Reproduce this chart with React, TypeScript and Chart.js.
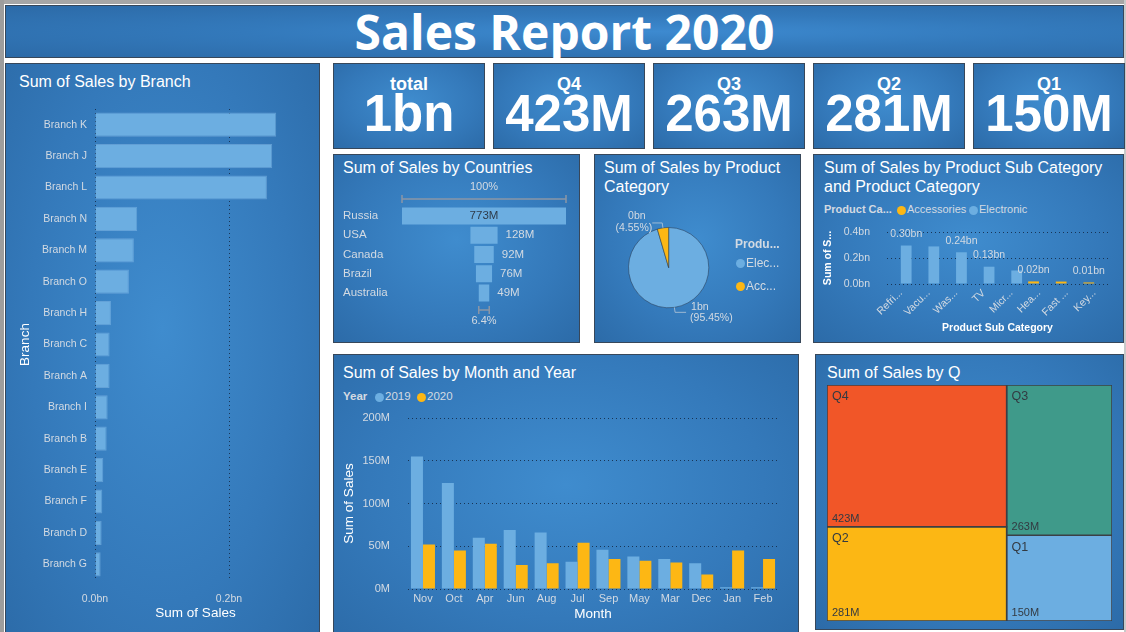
import React, { useEffect, useRef } from "react";
import { Chart, registerables } from "chart.js";
Chart.register(...registerables);

const FONT = "'Liberation Sans', Arial, Helvetica, sans-serif";
Chart.defaults.font.family = FONT;

// ---------------- DATA ----------------
const branches = ["Branch K", "Branch J", "Branch L", "Branch N", "Branch M", "Branch O", "Branch H", "Branch C", "Branch A", "Branch I", "Branch B", "Branch E", "Branch F", "Branch D", "Branch G"];
const branchSales = [0.2705, 0.2645, 0.2566, 0.063, 0.058, 0.0506, 0.0238, 0.0218, 0.0218, 0.0189, 0.0174, 0.0124, 0.0109, 0.0099, 0.0084]; // bn

const countries = ["Russia", "USA", "Canada", "Brazil", "Australia"];
const countrySales = [773, 128, 92, 76, 49.4]; // M

const productCategories = ["Electronic", "Accessories"];
const productLegendLabels = ["Elec...", "Acc..."];
const categorySales = [1.0662, 0.0508]; // bn

const subCategories = ["Refrigerator", "Vacuum Cleaner", "Washing Machine", "TV", "Microwave", "Headphones", "Fast Charger", "Keyboard"];
const subCategoryTickLabels = ["Refri...", "Vacu...", "Was...", "TV", "Micr...", "Hea...", "Fast ...", "Key..."];
const accessorySales = [null, null, null, null, null, 0.02, 0.0188, 0.012]; // bn
const electronicSales = [0.296, 0.289, 0.244, 0.133, 0.104, null, null, null]; // bn

const months = ["Nov", "Oct", "Apr", "Jun", "Aug", "Jul", "Sep", "May", "Mar", "Dec", "Jan", "Feb"];
const sales2019 = [155, 124, 60, 69, 66, 32, 46, 38, 35, 30, 2, 2]; // M
const sales2020 = [52, 45, 53, 28, 30, 54, 35, 33, 31, 17, 45, 35]; // M

const quarters = ["Q1", "Q2", "Q3", "Q4"];
const quarterSales = [150, 281, 263, 423]; // M
const quarterColors = ["#6caee1", "#fcb714", "#3f9a8a", "#f15628"];
const kpiOrder = ["Q4", "Q3", "Q2", "Q1"];

// ---------------- STYLE ----------------
const TICK = "#d3dae2";
const GRID = "rgba(22,48,80,0.95)";
const BLUE = "#6caee1";
const ORANGE = "#fdb714";
const PANEL_BG = "radial-gradient(ellipse at 50% 45%, #3f8cce 0%, #3479ba 60%, #2c6ba8 100%)";
const PANEL_BORDER = "1px solid #37475a";
const TM_ASPECT = 285 / 236;

const sum = (a: number[]) => a.reduce((s, v) => s + v, 0);

// fixes an axis box size and drops its automatic label overhang padding
const fixX = (h: number) => (s: any) => { s.height = h; s.paddingLeft = 0; s.paddingRight = 0; };
const fixY = (w: number) => (s: any) => { s.width = w; s.paddingTop = 0; s.paddingBottom = 0; };

function ChartBox({ left, top, width, height, config }: any) {
  const ref = useRef<HTMLCanvasElement>(null);
  useEffect(() => {
    const c = new Chart(ref.current as HTMLCanvasElement, config());
    return () => c.destroy();
  }, []);
  return <canvas ref={ref} width={width} height={height} style={{ position: "absolute", left, top, width, height }} />;
}

// ---------------- PLUGINS ----------------
const funnelPlugin = {
  id: "funnelLabels",
  afterDatasetsDraw(chart: any) {
    const ctx = chart.ctx;
    const meta = chart.getDatasetMeta(0);
    const area = chart.chartArea;
    ctx.save();
    ctx.font = `11.5px ${FONT}`;
    ctx.textBaseline = "middle";
    const ext = (bar: any) => {
      const p = bar.getProps(["x", "y", "base"], true);
      return { l: Math.min(p.x, p.base), r: Math.max(p.x, p.base), y: p.y };
    };
    meta.data.forEach((bar: any, i: number) => {
      const e = ext(bar);
      const text = Math.round(countrySales[i]) + "M";
      const w = ctx.measureText(text).width;
      if (w + 10 < e.r - e.l) {
        ctx.fillStyle = "#2e3b4a";
        ctx.textAlign = "center";
        ctx.fillText(text, (e.l + e.r) / 2, e.y);
      } else {
        ctx.fillStyle = TICK;
        ctx.textAlign = "left";
        ctx.fillText(text, e.r + 8, e.y);
      }
    });
    const bracket = (e: any, y: number, text: string, ty: number) => {
      ctx.strokeStyle = "#8b96a6";
      ctx.lineWidth = 1.5;
      ctx.beginPath();
      ctx.moveTo(e.l, y); ctx.lineTo(e.r, y);
      ctx.moveTo(e.l, y - 4); ctx.lineTo(e.l, y + 4);
      ctx.moveTo(e.r, y - 4); ctx.lineTo(e.r, y + 4);
      ctx.stroke();
      ctx.fillStyle = TICK;
      ctx.textAlign = "center";
      ctx.fillText(text, (e.l + e.r) / 2, ty);
    };
    const first = ext(meta.data[0]);
    const last = ext(meta.data[meta.data.length - 1]);
    ctx.font = `11px ${FONT}`;
    bracket(first, area.top - 7.5, "100%", area.top - 19.5);
    const pct = (countrySales[countrySales.length - 1] / countrySales[0]) * 100;
    bracket(last, area.bottom + 7.5, pct.toFixed(1) + "%", area.bottom + 18.5);
    ctx.restore();
  },
};

const pieLabelPlugin = {
  id: "pieLabels",
  afterDatasetsDraw(chart: any) {
    const ctx = chart.ctx;
    const meta = chart.getDatasetMeta(0);
    const total = sum(categorySales);
    ctx.save();
    ctx.font = `10.5px ${FONT}`;
    ctx.textBaseline = "middle";
    meta.data.forEach((arc: any, i: number) => {
      const p = arc.getProps(["x", "y", "startAngle", "endAngle", "outerRadius"], true);
      const mid = (p.startAngle + p.endAngle) / 2;
      const c = Math.cos(mid), s = Math.sin(mid);
      const px = p.x + c * p.outerRadius, py = p.y + s * p.outerRadius;
      const ex = p.x + c * (p.outerRadius + 5), ey = p.y + s * (p.outerRadius + 5);
      const right = c >= 0;
      const lx = ex + (right ? 11 : -10);
      ctx.strokeStyle = "rgba(200,210,220,0.7)";
      ctx.lineWidth = 1;
      ctx.beginPath();
      ctx.moveTo(px, py); ctx.lineTo(ex, ey); ctx.lineTo(lx, ey);
      ctx.stroke();
      const v = categorySales[i];
      const l1 = Math.round(v) + "bn";
      const l2 = "(" + ((v / total) * 100).toFixed(2) + "%)";
      ctx.fillStyle = TICK;
      if (right) {
        ctx.textAlign = "left";
        ctx.fillText(l1, lx + 5, ey - 5.5);
        ctx.fillText(l2, lx + 4, ey + 6);
      } else {
        const w = Math.max(ctx.measureText(l1).width, ctx.measureText(l2).width);
        ctx.textAlign = "center";
        ctx.fillText(l1, lx - w / 2 + 3, ey - 6.5);
        ctx.fillText(l2, lx - w / 2, ey + 5.5);
      }
    });
    ctx.restore();
  },
};

const subLabelPlugin = {
  id: "subLabels",
  afterDatasetsDraw(chart: any) {
    const ctx = chart.ctx;
    ctx.save();
    ctx.font = `10.5px ${FONT}`;
    ctx.textAlign = "center";
    ctx.textBaseline = "middle";
    ctx.fillStyle = TICK;
    const items: any[] = [];
    chart.data.datasets.forEach((ds: any, di: number) => {
      const meta = chart.getDatasetMeta(di);
      ds.data.forEach((v: any, i: number) => {
        if (v == null) return;
        const el = meta.data[i];
        items.push({ i, v, x: el.x, y: el.y });
      });
    });
    items.sort((a, b) => a.i - b.i);
    const placed: any[] = [];
    items.forEach((it) => {
      const text = it.v.toFixed(2) + "bn";
      const w = ctx.measureText(text).width;
      const cy = it.y - 11.5;
      const box = { l: it.x - w / 2 - 1, r: it.x + w / 2 + 1, t: cy - 6, b: cy + 6 };
      const hit = placed.some((p) => box.l < p.r && box.r > p.l && box.t < p.b && box.b > p.t);
      if (hit) return;
      placed.push(box);
      ctx.fillText(text, it.x, cy);
    });
    ctx.restore();
  },
};

const treemapLabelPlugin = {
  id: "treemapLabels",
  afterDatasetsDraw(chart: any) {
    const ctx = chart.ctx;
    ctx.save();
    ctx.fillStyle = "#333a42";
    ctx.textAlign = "left";
    ctx.textBaseline = "middle";
    chart.data.datasets.forEach((ds: any, di: number) => {
      const meta = chart.getDatasetMeta(di);
      const tl = meta.data[0], br = meta.data[2];
      ctx.font = `12.5px ${FONT}`;
      ctx.fillText(ds.label, tl.x + 5, tl.y + 12);
      ctx.font = `11px ${FONT}`;
      ctx.fillText(Math.round(ds.value) + "M", tl.x + 5, br.y - 8);
    });
    ctx.restore();
  },
};

function squarify(values: number[], rect: any) {
  const total = sum(values);
  const area = rect.w * rect.h;
  const areas = values.map((v) => (v / total) * area);
  const out: any[] = [];
  let r = { ...rect };
  let i = 0;
  while (i < areas.length) {
    const short = Math.min(r.w, r.h);
    const worst = (row: number[]) => {
      const s = sum(row);
      const mx = Math.max(...row), mn = Math.min(...row);
      return Math.max((short * short * mx) / (s * s), (s * s) / (short * short * mn));
    };
    const row = [areas[i]];
    let j = i + 1;
    while (j < areas.length && worst([...row, areas[j]]) <= worst(row)) {
      row.push(areas[j]);
      j++;
    }
    const s = sum(row);
    if (r.w >= r.h) {
      const cw = s / r.h;
      let yy = r.y;
      row.forEach((a) => { const hh = a / cw; out.push({ x: r.x, y: yy, w: cw, h: hh }); yy += hh; });
      r = { x: r.x + cw, y: r.y, w: r.w - cw, h: r.h };
    } else {
      const rh = s / r.w;
      let xx = r.x;
      row.forEach((a) => { const ww = a / rh; out.push({ x: xx, y: r.y, w: ww, h: rh }); xx += ww; });
      r = { x: r.x, y: r.y + rh, w: r.w, h: r.h - rh };
    }
    i = j;
  }
  return out;
}

// ---------------- CONFIGS ----------------
const noPlugins = { legend: { display: false }, tooltip: { enabled: false } };

const branchConfig = () => ({
  type: "bar",
  data: {
    labels: branches,
    datasets: [{ data: branchSales, backgroundColor: BLUE, borderColor: "rgba(150,200,240,0.45)", borderWidth: 1, barPercentage: 0.77, categoryPercentage: 1 }],
  },
  options: {
    indexAxis: "y", responsive: false, animation: false,
    layout: { autoPadding: false, padding: { left: 0, right: 24, top: 9, bottom: 0 } },
    plugins: noPlugins,
    scales: {
      x: {
        min: 0, max: 0.3,
        afterFit: fixX(52),
        ticks: { stepSize: 0.2, includeBounds: false, color: TICK, font: { size: 10.5 }, padding: 13, maxRotation: 0, callback: (v: any) => Number(v).toFixed(1) + "bn" },
        grid: { color: GRID, drawTicks: false },
        border: { display: false, dash: [1, 3] },
        title: { display: true, text: "Sum of Sales", color: "#ffffff", font: { size: 13.5 }, padding: { top: 0, bottom: 11 } },
      },
      y: {
        afterFit: fixY(90),
        ticks: { color: TICK, font: { size: 10.5 }, padding: 8 },
        grid: { display: false, drawTicks: false },
        border: { display: false },
        title: { display: true, text: "Branch", color: "#ffffff", font: { size: 13.5 }, padding: { top: 12, bottom: 0 } },
      },
    },
  },
});

const funnelConfig = () => {
  const mx = Math.max(...countrySales);
  return {
    type: "bar",
    data: {
      labels: countries,
      datasets: [{ data: countrySales.map((v) => [-v / 2, v / 2]), backgroundColor: BLUE, barPercentage: 0.88, categoryPercentage: 1 }],
    },
    options: {
      indexAxis: "y", responsive: false, animation: false,
      layout: { autoPadding: false, padding: { left: 10, right: 14, top: 31.4, bottom: 27.4 } },
      plugins: noPlugins,
      scales: {
        x: { display: false, min: -mx / 2, max: mx / 2 },
        y: {
          afterFit: fixY(59),
          ticks: { color: TICK, font: { size: 11.5 }, crossAlign: "far", padding: 0 },
          grid: { display: false, drawTicks: false },
          border: { display: false },
        },
      },
    },
    plugins: [funnelPlugin],
  };
};

const pieConfig = () => ({
  type: "pie",
  data: {
    labels: productCategories,
    datasets: [{ data: categorySales, backgroundColor: [BLUE, ORANGE], borderColor: "rgba(40,60,85,0.55)", borderWidth: 1 }],
  },
  options: {
    responsive: false, animation: false,
    layout: { autoPadding: false, padding: { left: 34, right: 34.7, top: 32, bottom: 26.7 } },
    plugins: noPlugins,
  },
  plugins: [pieLabelPlugin],
});

const subConfig = () => ({
  type: "bar",
  data: {
    labels: subCategories,
    datasets: [
      { label: "Accessories", data: accessorySales, backgroundColor: ORANGE, categoryPercentage: 0.78, barPercentage: 1 },
      { label: "Electronic", data: electronicSales, backgroundColor: BLUE, categoryPercentage: 0.78, barPercentage: 1 },
    ],
  },
  options: {
    responsive: false, animation: false,
    layout: { autoPadding: false, padding: { left: 0, right: 15, top: 10, bottom: 0 } },
    plugins: noPlugins,
    scales: {
      x: {
        afterFit: fixX(56),
        ticks: { color: TICK, font: { size: 10.5 }, minRotation: 45, maxRotation: 45, padding: 3, autoSkip: false, callback: (_v: any, i: number) => subCategoryTickLabels[i] },
        grid: { display: false, drawTicks: false },
        border: { display: false },
        title: { display: true, text: "Product Sub Category", color: "#ffffff", font: { size: 10.5, weight: "bold" }, padding: { top: 0, bottom: 5.5 } },
      },
      y: {
        min: 0, max: 0.4,
        afterFit: fixY(74),
        ticks: { stepSize: 0.2, color: TICK, font: { size: 10.5 }, padding: 17, callback: (v: any) => Number(v).toFixed(1) + "bn" },
        grid: { color: GRID, drawTicks: false },
        border: { display: false, dash: [1, 3] },
        title: { display: true, text: "Sum of S...", color: "#ffffff", font: { size: 10.5, weight: "bold" }, padding: { top: 8.4, bottom: 0 } },
      },
    },
  },
  plugins: [subLabelPlugin],
});

const monthConfig = () => ({
  type: "bar",
  data: {
    labels: months,
    datasets: [
      { label: "2019", data: sales2019, backgroundColor: BLUE, categoryPercentage: 0.777, barPercentage: 1 },
      { label: "2020", data: sales2020, backgroundColor: ORANGE, categoryPercentage: 0.777, barPercentage: 1 },
    ],
  },
  options: {
    responsive: false, animation: false,
    layout: { autoPadding: false, padding: { left: 0, right: 20.5, top: 13, bottom: 0 } },
    plugins: noPlugins,
    scales: {
      x: {
        afterFit: fixX(43),
        ticks: { color: TICK, font: { size: 11 }, padding: 3.5, maxRotation: 0, autoSkip: false },
        grid: { display: false, drawTicks: false },
        border: { display: false },
        title: { display: true, text: "Month", color: "#ffffff", font: { size: 13.5 }, padding: { top: 0, bottom: 10 } },
      },
      y: {
        min: 0, max: 200,
        afterFit: fixY(74.5),
        ticks: { stepSize: 50, color: TICK, font: { size: 11 }, padding: 17.5, callback: (v: any) => v + "M" },
        grid: { color: GRID, drawTicks: false },
        border: { display: false, dash: [1, 3] },
        title: { display: true, text: "Sum of Sales", color: "#ffffff", font: { size: 13.5 }, padding: { top: 8, bottom: 0 } },
      },
    },
  },
});

const treemapConfig = () => {
  const order = quarters.map((_q, i) => i).sort((a, b) => quarterSales[b] - quarterSales[a]);
  const cells = squarify(order.map((i) => quarterSales[i]), { x: 0, y: 0, w: TM_ASPECT, h: 1 });
  const datasets = cells.map((c: any, k: number) => {
    const i = order[k];
    const x0 = c.x, x1 = c.x + c.w, yTop = 1 - c.y, yBot = 1 - (c.y + c.h);
    return {
      label: quarters[i],
      value: quarterSales[i],
      data: [{ x: x0, y: yTop }, { x: x1, y: yTop }, { x: x1, y: yBot }, { x: x0, y: yBot }, { x: x0, y: yTop }],
      fill: "shape",
      backgroundColor: quarterColors[i],
      borderColor: "#3b3f45",
      borderWidth: 1.5,
      pointRadius: 0,
      tension: 0,
    };
  });
  return {
    type: "line",
    data: { datasets },
    options: {
      responsive: false, animation: false,
      layout: { autoPadding: false, padding: { left: 12, right: 11, top: 32, bottom: 9 } },
      plugins: noPlugins,
      scales: {
        x: { type: "linear", display: false, min: 0, max: TM_ASPECT },
        y: { type: "linear", display: false, min: 0, max: 1 },
      },
    },
    plugins: [treemapLabelPlugin],
  };
};

// ---------------- LAYOUT ----------------
function Panel({ left, top, width, height, bg = PANEL_BG, children }: any) {
  return (
    <div style={{ position: "absolute", left, top, width, height, boxSizing: "border-box", border: PANEL_BORDER, background: bg }}>
      {children}
    </div>
  );
}

function PanelTitle({ lines, left, top }: any) {
  return (
    <div style={{ position: "absolute", left, top, color: "#ffffff", fontFamily: FONT, fontSize: 16, lineHeight: "19px", whiteSpace: "nowrap" }}>
      {lines.map((l: string, i: number) => <div key={i}>{l}</div>)}
    </div>
  );
}

function Txt({ left, top, size, bold, color = TICK, children }: any) {
  return (
    <div style={{ position: "absolute", left, top: top - size * 0.6, fontFamily: FONT, fontSize: size, lineHeight: size * 1.2 + "px", fontWeight: bold ? 700 : 400, color, whiteSpace: "nowrap" }}>{children}</div>
  );
}

function Dot({ cx, cy, color }: any) {
  return <div style={{ position: "absolute", left: cx - 4.5, top: cy - 4.5, width: 9, height: 9, borderRadius: "50%", background: color }} />;
}

export default function App() {
  const total = sum(quarterSales);
  const kpis = [{ label: "total", value: Math.round(total / 1000) + "bn" }].concat(
    kpiOrder.map((q) => ({ label: q, value: Math.round(quarterSales[quarters.indexOf(q)]) + "M" }))
  );
  const kpiLefts = [333, 493, 653, 813, 973];
  return (
    <div style={{ position: "absolute", left: 0, top: 0, width: 1126, height: 632, overflow: "hidden", background: "#ffffff", fontFamily: FONT }}>
      <div style={{ position: "absolute", left: 0, top: 0, width: 1126, height: 4, background: "#a6a6a6" }} />
      <div style={{ position: "absolute", left: 0, top: 0, width: 4, height: 632, background: "#9d9d9d" }} />
      <div style={{ position: "absolute", left: 1124, top: 0, width: 2, height: 632, background: "#c9c9c9" }} />

      <Panel left={5} top={5} width={1119} height={53} bg="radial-gradient(ellipse at 58% 50%, #3d8ad0 0%, #3379bb 45%, #2c6aa7 100%)">
        <div style={{ position: "absolute", left: 0, top: 0, width: "100%", height: "100%", display: "flex", alignItems: "center", justifyContent: "center", color: "#fff", fontFamily: "'Open Sans', sans-serif", fontWeight: 700, fontSize: 48, lineHeight: "52px" }}>
          Sales Report 2020
        </div>
      </Panel>

      {kpis.map((k, i) => (
        <Panel key={k.label} left={kpiLefts[i]} top={63} width={152} height={86}>
          <div style={{ position: "absolute", left: 0, width: "100%", top: 11, textAlign: "center", color: "#fff", fontWeight: 700, fontSize: 18, lineHeight: "18px" }}>{k.label}</div>
          <div style={{ position: "absolute", left: 0, width: "100%", top: 24, textAlign: "center", color: "#fff", fontWeight: 700, fontSize: 51, lineHeight: "51px" }}>{k.value}</div>
        </Panel>
      ))}

      <Panel left={5} top={63} width={315} height={590}>
        <PanelTitle lines={["Sum of Sales by Branch"]} left={13} top={8} />
      </Panel>
      <ChartBox left={5} top={100} width={315} height={532} config={branchConfig} />

      <Panel left={333} top={154} width={247} height={189}>
        <PanelTitle lines={["Sum of Sales by Countries"]} left={9} top={2.5} />
      </Panel>
      <ChartBox left={333} top={175} width={247} height={155} config={funnelConfig} />

      <Panel left={594} top={154} width={207} height={189}>
        <PanelTitle lines={["Sum of Sales by Product", "Category"]} left={9} top={2.5} />
      </Panel>
      <ChartBox left={594} top={195} width={150} height={140} config={pieConfig} />
      <Txt left={735} top={244} size={12} bold>Produ...</Txt>
      <Dot cx={740} cy={263} color={BLUE} />
      <Txt left={746} top={263} size={12}>{productLegendLabels[0]}</Txt>
      <Dot cx={740} cy={286} color={ORANGE} />
      <Txt left={746} top={286} size={12}>{productLegendLabels[1]}</Txt>

      <Panel left={813} top={154} width={311} height={189}>
        <PanelTitle lines={["Sum of Sales by Product Sub Category", "and Product Category"]} left={10} top={2.5} />
      </Panel>
      <Txt left={824} top={210} size={11} bold>Product Ca...</Txt>
      <Dot cx={901} cy={210} color={ORANGE} />
      <Txt left={907} top={210} size={11}>Accessories</Txt>
      <Dot cx={973} cy={210} color={BLUE} />
      <Txt left={979} top={210} size={11}>Electronic</Txt>
      <ChartBox left={813} top={222} width={310} height={118} config={subConfig} />

      <Panel left={333} top={354} width={466} height={290}>
        <PanelTitle lines={["Sum of Sales by Month and Year"]} left={9} top={8} />
      </Panel>
      <Txt left={343} top={397} size={11.5} bold>Year</Txt>
      <Dot cx={379} cy={397} color={BLUE} />
      <Txt left={385} top={397} size={11.5}>2019</Txt>
      <Dot cx={421} cy={397} color={ORANGE} />
      <Txt left={427} top={397} size={11.5}>2020</Txt>
      <ChartBox left={333} top={405} width={466} height={227} config={monthConfig} />

      <Panel left={815} top={354} width={309} height={276}>
        <PanelTitle lines={["Sum of Sales by Q"]} left={11} top={8} />
      </Panel>
      <ChartBox left={815} top={353} width={308} height={277} config={treemapConfig} />
    </div>
  );
}
